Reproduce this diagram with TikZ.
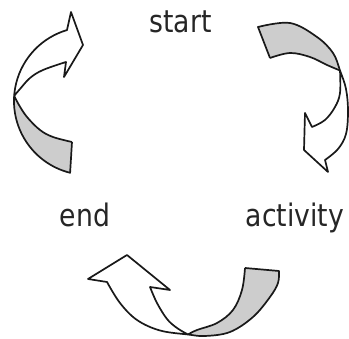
\documentclass[tikz,border=0pt]{standalone}
\usepackage{fontspec}
\newfontfamily\lblfont{DejaVu Sans}[FakeStretch=0.86]
\usetikzlibrary{calc}
\definecolor{greyfill}{RGB}{205,205,205}
\tikzset{
  outl/.style={draw=black!90, line width=1.7pt, line join=round},
  sm/.style={smooth, tension=0.6},
  lbl/.style={font=\lblfont\fontsize{31}{36}\selectfont, inner sep=0pt, anchor=base, text=black!85}
}
\begin{document}
\begin{tikzpicture}[x=1pt,y=1pt]
\useasboundingbox (0,0) rectangle (349,339);
% ---------- left arrow ----------
\coordinate (LA) at (88,238);
\coordinate (TL) at (14.2,243.2);
\fill[greyfill] (TL) arc[start angle=176,end angle=256,radius=74pt]
  -- plot[sm] coordinates {(72,197) (53,202) (40,209) (27,222) (19,234) (14.2,243.2)} -- cycle;
\fill[white] (TL) arc[start angle=176,end angle=106.5,radius=74pt]
  -- (71,327) -- (83,294) -- (64,262)
  -- plot[sm] coordinates {(66,277) (43,269) (30,261) (20,250) (14.2,243.2)} -- cycle;
\draw[outl] (72,197) -- ($(LA)+(256:74pt)$) arc[start angle=256,end angle=106.5,radius=74pt]
  -- (71,327) -- (83,294) -- (64,262)
  -- plot[sm] coordinates {(66,277) (43,269) (30,261) (20,250) (14.2,243.2)};
\draw[outl] plot[sm] coordinates {(72,197) (53,202) (40,209) (27,222) (19,234) (14.2,243.2)};
% ---------- right arrow ----------
\coordinate (TR) at (340,268.5);
\fill[greyfill] plot[sm] coordinates {(258,312) (290,316) (317,302) (333,286) (340,268.5)}
  -- plot[sm] coordinates {(340,268.5) (327,274) (310,282) (290,286) (270,281)} -- cycle;
\fill[white] plot[sm] coordinates {(340,268.5) (346,250) (348,228) (346,205) (338,190) (325,179)}
  -- (328,167) -- (304,189) -- (305,226)
  -- plot[sm] coordinates {(312,212) (325,219) (335,232) (340,246) (340,268.5)} -- cycle;
\draw[outl] (270,281) -- plot[sm] coordinates {(258,312) (290,316) (317,302) (333,286) (340,268.5) (346,250) (348,228) (346,205) (338,190) (325,179)}
  -- (328,167) -- (304,189) -- (305,226)
  -- plot[sm] coordinates {(312,212) (325,219) (335,232) (340,246) (340,268.5)};
\draw[outl] plot[sm] coordinates {(340,268.5) (327,274) (310,282) (290,286) (270,281)};
% ---------- bottom arrow ----------
\coordinate (TB) at (188,4.5);
\fill[greyfill] plot[sm] coordinates {(188,4.5) (205,3) (230,7) (253,22) (270,42) (278,56) (279,68)}
  -- plot[sm] coordinates {(245,71) (242,49) (233,29) (217,16) (197,9) (188,4.5)} -- cycle;
\fill[white] plot[sm] coordinates {(188,4.5) (160,8.5) (137,19) (120,36) (107,57)}
  -- (88,60) -- (127,84) -- (170,49)
  -- plot[sm] coordinates {(150,52) (157,36) (167,20) (177,11) (188,4.5)} -- cycle;
\draw[outl] (245,71) -- plot[sm] coordinates {(279,68) (278,56) (270,42) (253,22) (230,7) (205,3) (188,4.5) (160,8.5) (137,19) (120,36) (107,57)}
  -- (88,60) -- (127,84) -- (170,49)
  -- plot[sm] coordinates {(150,52) (157,36) (167,20) (177,11) (188,4.5)};
\draw[outl] plot[sm] coordinates {(188,4.5) (197,9) (217,16) (233,29) (242,49) (245,71)};
% ---------- labels ----------
\node[lbl] (start) at (180.5,306) {start};
\node[lbl] (end) at (85,112) {end};
\node[lbl] (activity) at (295,112) {activity};
\end{tikzpicture}
\end{document}
